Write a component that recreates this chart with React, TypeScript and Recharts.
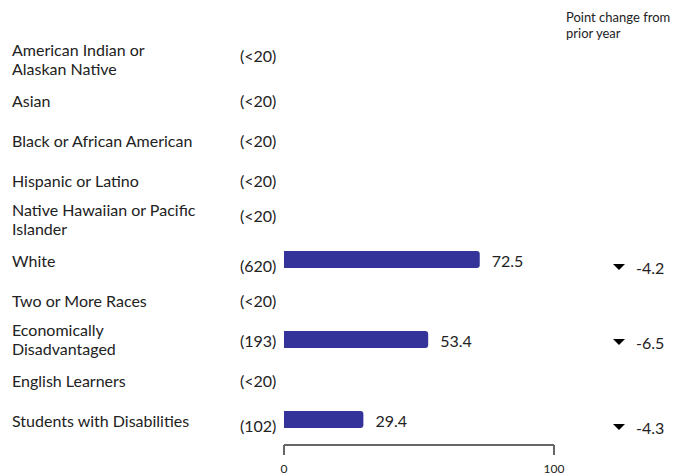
import React from 'react';
import { BarChart, Bar, XAxis, YAxis } from 'recharts';

const groups = [
  'American Indian or\nAlaskan Native',
  'Asian',
  'Black or African American',
  'Hispanic or Latino',
  'Native Hawaiian or Pacific\nIslander',
  'White',
  'Two or More Races',
  'Economically\nDisadvantaged',
  'English Learners',
  'Students with Disabilities',
];
const counts = ['(<20)', '(<20)', '(<20)', '(<20)', '(<20)', '(620)', '(<20)', '(193)', '(<20)', '(102)'];
const scores: (number | null)[] = [null, null, null, null, null, 72.5, null, 53.4, null, 29.4];
const changes: (number | null)[] = [null, null, null, null, null, -4.2, null, -6.5, null, -4.3];
const xTicks = [0, 100];

const FONT = 'Lato, "Open Sans", sans-serif';
const TEXT = '#222222';
const BAR = '#333399';

const data = groups.map((name, i) => ({ name, score: scores[i] }));

const RowTick = (props: any) => {
  const { y, index, payload } = props;
  const lines = String(payload.value).split('\n');
  const hasBar = scores[index] != null;
  // counts and change values sit a bit off the row centre, like the original
  const shift = (lines.length > 1 ? -4 : 1) + (hasBar ? 5 : 0);
  const change = changes[index];
  const cy = y + shift + 2;
  return (
    <g fontFamily={FONT} fill={TEXT} fontSize={16}>
      {lines.length > 1 ? (
        <text x={12} y={y} dominantBaseline="central">
          <tspan x={12} dy={-10}>{lines[0]}</tspan>
          <tspan x={12} dy={19}>{lines[1]}</tspan>
        </text>
      ) : (
        <text x={12} y={y + 1.5} dominantBaseline="central">{lines[0]}</text>
      )}
      <text x={240} y={y + shift} dominantBaseline="central">{counts[index]}</text>
      {change != null && (
        <g>
          <path d={`M613,${cy - 3}L625,${cy - 3}L619,${cy + 3}Z`} fill="#000" />
          <text x={636} y={cy} dominantBaseline="central">{change.toFixed(1)}</text>
        </g>
      )}
    </g>
  );
};

const ScaleTick = (props: any) => {
  const { x, y, payload } = props;
  return (
    <g>
      <line x1={x} x2={x} y1={y} y2={y + 10} stroke="#666" strokeWidth={2} />
      <text x={x} y={y + 23} textAnchor="middle" dominantBaseline="central" fontFamily={FONT} fontSize={12} fill={TEXT}>
        {payload.value}
      </text>
    </g>
  );
};

const ValueLabel = (props: any) => {
  const { x, y, width, height, value } = props;
  if (value == null) return null;
  return (
    <text x={x + width + 12} y={y + height / 2 + 0.5} dominantBaseline="central" fontFamily={FONT} fontSize={16} fill={TEXT}>
      {value}
    </text>
  );
};

export default function App() {
  return (
    <div style={{ position: 'absolute', left: 0, top: 0, width: 681, height: 476, background: '#fff' }}>
      <div
        style={{
          position: 'absolute',
          left: 566,
          top: 9,
          fontFamily: FONT,
          fontSize: 13,
          lineHeight: '16px',
          color: TEXT,
        }}
      >
        Point change from
        <br />
        prior year
      </div>
      <BarChart
        width={681}
        height={476}
        data={data}
        layout="vertical"
        margin={{ top: 39, right: 127, bottom: 0, left: 0 }}
      >
        <XAxis
          type="number"
          domain={[0, 100]}
          ticks={xTicks}
          height={31}
          tickLine={false}
          tickSize={0}
          tickMargin={0}
          axisLine={{ stroke: '#666', strokeWidth: 2 }}
          tick={<ScaleTick />}
        />
        <YAxis
          type="category"
          dataKey="name"
          width={284}
          interval={0}
          axisLine={false}
          tickLine={false}
          padding={{ top: 0, bottom: 6 }}
          tick={<RowTick />}
        />
        <Bar
          dataKey="score"
          fill={BAR}
          barSize={17}
          radius={[0, 3, 3, 0]}
          isAnimationActive={false}
          label={<ValueLabel />}
        />
      </BarChart>
    </div>
  );
}
